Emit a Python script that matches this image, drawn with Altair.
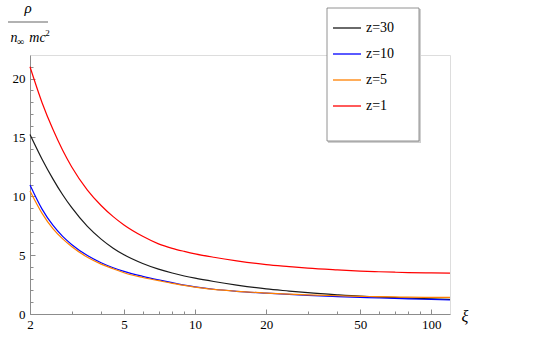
import altair as alt
import pandas as pd

# ---- data ----
xi = [2, 2.25, 2.5, 2.75, 3, 3.5, 4, 4.5, 5, 6, 7, 8, 9, 10, 12, 15, 20, 25, 30, 40, 50, 60, 70, 80, 100, 120]
rho_z30 = [15.25, 13.15, 11.48, 10.13, 9.05, 7.44, 6.36, 5.59, 5.03, 4.29, 3.81, 3.48, 3.23, 3.04, 2.76, 2.46, 2.13, 1.95, 1.81, 1.63, 1.51, 1.44, 1.39, 1.35, 1.29, 1.25]
rho_z10 = [10.96, 8.91, 7.54, 6.59, 5.91, 4.97, 4.36, 3.93, 3.62, 3.2, 2.9, 2.66, 2.46, 2.31, 2.1, 1.93, 1.77, 1.66, 1.58, 1.48, 1.41, 1.36, 1.32, 1.29, 1.235, 1.19]
rho_z5 = [10.45, 8.55, 7.25, 6.38, 5.74, 4.82, 4.24, 3.84, 3.5, 3.1, 2.83, 2.6, 2.43, 2.28, 2.09, 1.93, 1.78, 1.69, 1.63, 1.55, 1.5, 1.47, 1.45, 1.43, 1.415, 1.405]
rho_z1 = [21.0, 17.95, 15.69, 13.91, 12.51, 10.53, 9.22, 8.27, 7.56, 6.6, 5.96, 5.58, 5.32, 5.11, 4.82, 4.52, 4.2, 4.03, 3.9, 3.75, 3.65, 3.59, 3.55, 3.52, 3.49, 3.47]

series_names = ["z=30", "z=10", "z=5", "z=1"]
series_colors = ["#1a1a1a", "#0000ff", "#ff8000", "#ff0000"]
series_values = [rho_z30, rho_z10, rho_z5, rho_z1]

x_major = [2, 5, 10, 20, 50, 100]
x_minor = [3, 4, 6, 7, 8, 9, 30, 40, 60, 70, 80, 90]
y_major = [0, 5, 10, 15, 20]
y_minor = [1, 2, 3, 4, 6, 7, 8, 9, 11, 12, 13, 14, 16, 17, 18, 19, 21]

rows = []
for name, vals in zip(series_names, series_values):
    for x, v in zip(xi, vals):
        rows.append({"xi": x, "rho": v, "series": name})
df = pd.DataFrame(rows)

FONT = "Liberation Serif, serif"
AX = "#8c8c8c"

xscale = alt.Scale(type="log", domain=[2, 120], nice=False)
yscale = alt.Scale(domain=[0, 22], nice=False, zero=False)

base = alt.Chart(df)

lines = base.mark_line(strokeWidth=1.2, interpolate="monotone").encode(
    x=alt.X("xi:Q", scale=xscale,
            axis=alt.Axis(orient="bottom", values=x_major, format="d", title=None,
                          ticks=False, tickSize=0, grid=False, domainColor=AX,
                          labelFont=FONT, labelFontSize=13, labelColor="black",
                          labelPadding=4, labelFlush=False)),
    y=alt.Y("rho:Q", scale=yscale,
            axis=alt.Axis(orient="left", values=y_major, title=None,
                          ticks=False, tickSize=0, grid=False, domainColor=AX,
                          labelFont=FONT, labelFontSize=13, labelColor="black",
                          labelPadding=5)),
    color=alt.Color("series:N",
                    scale=alt.Scale(domain=series_names, range=series_colors),
                    legend=alt.Legend(orient="none", legendX=302, legendY=-42,
                                      title=None, symbolType="stroke",
                                      symbolSize=784, symbolStrokeWidth=1.3,
                                      labelFont=FONT, labelFontSize=14,
                                      labelColor="black", labelOffset=4,
                                      rowPadding=4, padding=0)),
)

def tick_layer(xv, yv, size):
    return base.mark_point(opacity=0).encode(
        x=alt.X("xi:Q", scale=xscale,
                axis=alt.Axis(orient="bottom", values=xv, labels=False, domain=False,
                              title=None, grid=False, tickSize=size, offset=-size,
                              tickColor=AX)),
        y=alt.Y("rho:Q", scale=yscale,
                axis=alt.Axis(orient="left", values=yv, labels=False, domain=False,
                              title=None, grid=False, tickSize=size, offset=-size,
                              tickColor=AX)),
    )

major_ticks = tick_layer(x_major, y_major, 5)
minor_ticks = tick_layer(x_minor, y_minor, 3)

one = alt.Data(values=[{"a": 1}])

legend_shadow = alt.Chart(one).mark_rect(fill="#cfcfcf").encode(
    x=alt.value(298), x2=alt.value(391), y=alt.value(-46), y2=alt.value(88))
legend_box = alt.Chart(one).mark_rect(fill="white", stroke="#777777", strokeWidth=0.8).encode(
    x=alt.value(297), x2=alt.value(389), y=alt.value(-47), y2=alt.value(86))

def txt(s, x, y, size=13, style="italic"):
    return alt.Chart(one).mark_text(font=FONT, fontSize=size, fontStyle=style,
                                    align="center", baseline="alphabetic",
                                    color="black").encode(
        x=alt.value(x), y=alt.value(y), text=alt.value(s))

frac_bar = alt.Chart(one).mark_rule(color="#666666", strokeWidth=1.2).encode(
    x=alt.value(-22), x2=alt.value(18), y=alt.value(-33))

labels = [
    txt("ρ", -2, -42, 15),
    txt("n", -16, -13, 14),
    txt("∞", -9.5, -10, 10, "normal"),
    txt("mc", 7.5, -13, 14),
    txt("2", 17.5, -19, 9, "normal"),
    txt("ξ", 435, 267, 16),
]

chart = alt.layer(
    legend_shadow, legend_box, lines, major_ticks, minor_ticks, frac_bar, *labels
).resolve_axis(x="independent", y="independent").properties(
    width=420, height=259,
    autosize="none",
    padding={"left": 30, "top": 55, "right": 90, "bottom": 27},
).configure_view(stroke=None).configure(background="white")

chart.save("out.html", embed_options={"renderer": "svg", "actions": False})
